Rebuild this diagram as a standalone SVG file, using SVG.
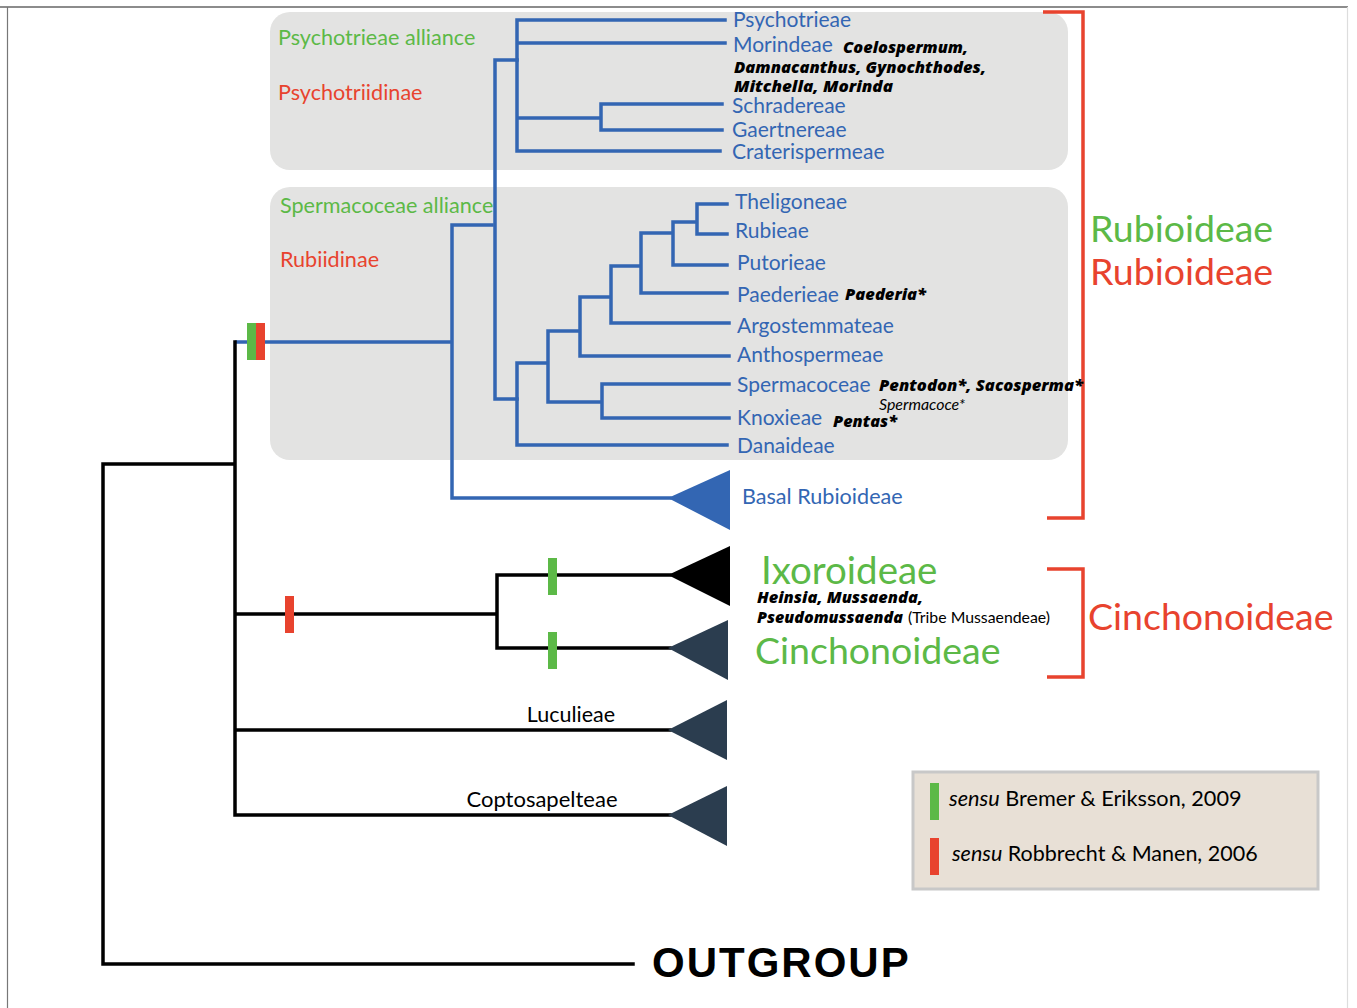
<svg xmlns="http://www.w3.org/2000/svg" width="1357" height="1008" viewBox="0 0 1357 1008">
<defs>
<style>
.box{fill:#e3e3e2}
.bl{stroke:#3366b3;stroke-width:3.5;fill:none;stroke-linecap:square}
.bk{stroke:#000;stroke-width:3.5;fill:none;stroke-linecap:square}
.rb{stroke:#e8432e;stroke-width:3.5;fill:none}
.t{font-family:Lato,"Open Sans",sans-serif}
.blue{fill:#3366b3;font-size:21px}
.green{fill:#5cb947}
.red{fill:#e8432e}
.bi{font-family:"Open Sans",Lato,sans-serif;font-weight:800;font-style:italic;font-size:15px;fill:#000}
.tri{fill:#2b3d4f}
.mg{fill:#5cb947}
.mr{fill:#e8432e}
</style>
</defs>
<rect width="1357" height="1008" fill="#fff"/>
<g id="frame">
<line x1="0" y1="7" x2="1348" y2="7" stroke="#666" stroke-width="1.5"/>
<line x1="7.5" y1="7" x2="7.5" y2="1008" stroke="#777" stroke-width="1.2"/>
<line x1="1347.5" y1="7" x2="1347.5" y2="1008" stroke="#ddd" stroke-width="1.2"/>
</g>
<g id="boxes">
<rect id="box-psychotrieae" class="box" x="270" y="12" width="798" height="158" rx="20"/>
<rect id="box-spermacoceae" class="box" x="270" y="187" width="798" height="273" rx="20"/>
</g>
<g id="connectors">
<path class="bl" d="M517,20 V151 M517,20 H725 M517,43 H725 M517,118 H601 M601,104 V130 M601,104 H722 M601,130 H722 M517,151 H720"/>
<path class="bl" d="M495,60 V399 M495,60 H517 M495,399 H517"/>
<path class="bl" d="M517,363 V445 M517,445 H727 M517,363 H548 M548,331 V402 M548,402 H602 M602,384 V418 M602,384 H729 M602,418 H729 M548,331 H580 M580,297 V356 M580,356 H729 M580,297 H611 M611,266 V323 M611,323 H729 M611,266 H641 M641,233 V293 M641,293 H727 M641,233 H673 M673,222 V265 M673,265 H727 M673,222 H697 M697,204 V234 M697,204 H727 M697,234 H727"/>
<path class="bl" d="M452,225 V498 M452,225 H492 M237,342 H452 M452,498 H670"/>
<path class="bk" d="M103,464 V964 M103,464 H235 M235,342 V815 M103,964 H633 M235,614 H497 M497,575 V648 M497,575 H670 M497,648 H670 M235,730 H670 M235,815 H670"/>
<path class="rb" d="M1043,12 H1083 V518 H1047"/>
<path class="rb" d="M1047,569 H1083 V677 H1047"/>
</g>
<g id="markers">
<rect class="mg" x="247" y="323" width="9" height="37"/>
<rect class="mr" x="256" y="323" width="9" height="37"/>
<rect class="mr" x="285" y="596" width="9" height="37"/>
<rect class="mg" x="548" y="558" width="9" height="37"/>
<rect class="mg" x="548" y="632" width="9" height="37"/>
</g>
<g id="node-basal-rubioideae">
<polygon points="668,498 730,470 730,530" fill="#3366b3"/>
<text class="t" x="742" y="504" font-size="21.6" fill="#3366b3">Basal Rubioideae</text>
</g>
<g id="node-ixoroideae">
<polygon points="668,575 730,546 730,606" fill="#000"/>
<text class="t green" x="761" y="584" font-size="38.5">Ixoroideae</text>
<text class="bi" x="757" y="603" textLength="166" lengthAdjust="spacingAndGlyphs">Heinsia, Mussaenda,</text>
<text class="bi" x="757" y="623" textLength="146" lengthAdjust="spacingAndGlyphs">Pseudomussaenda</text>
<text class="t" x="908" y="623" font-size="15" fill="#000" textLength="142" lengthAdjust="spacingAndGlyphs">(Tribe Mussaendeae)</text>
</g>
<g id="node-cinchonoideae">
<polygon class="tri" points="668,648 728,620 728,680"/>
<text class="t green" x="755" y="664" font-size="37.5">Cinchonoideae</text>
</g>
<g id="node-luculieae">
<polygon class="tri" points="668,730 727,700 727,760"/>
<text class="t" x="571" y="722" font-size="21.5" text-anchor="middle" fill="#000">Luculieae</text>
</g>
<g id="node-coptosapelteae">
<polygon class="tri" points="668,815 727,786 727,846"/>
<text class="t" x="542" y="807" font-size="22" text-anchor="middle" fill="#000">Coptosapelteae</text>
</g>
<g id="node-outgroup">
<text x="652" y="977" font-family="'Liberation Sans',Arial,sans-serif" font-weight="bold" font-size="42" letter-spacing="2" fill="#000">OUTGROUP</text>
</g>
<g id="labels-psychotrieae">
<text class="t green" x="278" y="45" font-size="21.6">Psychotrieae alliance</text>
<text class="t red" x="278" y="100" font-size="21.6">Psychotriidinae</text>
<text class="t blue" x="733" y="27">Psychotrieae</text>
<text class="t blue" x="733" y="52">Morindeae</text>
<text class="bi" x="843" y="53" textLength="125" lengthAdjust="spacingAndGlyphs">Coelospermum,</text>
<text class="bi" x="734" y="73" textLength="252" lengthAdjust="spacingAndGlyphs">Damnacanthus, Gynochthodes,</text>
<text class="bi" x="734" y="92" textLength="159" lengthAdjust="spacingAndGlyphs">Mitchella, Morinda</text>
<text class="t blue" x="732" y="113">Schradereae</text>
<text class="t blue" x="732" y="137">Gaertnereae</text>
<text class="t blue" x="732" y="159">Craterispermeae</text>
</g>
<g id="labels-spermacoceae">
<text class="t green" x="280" y="213" font-size="21.6">Spermacoceae alliance</text>
<text class="t red" x="280" y="267" font-size="21.6">Rubiidinae</text>
<text class="t blue" x="735" y="209">Theligoneae</text>
<text class="t blue" x="735" y="238">Rubieae</text>
<text class="t blue" x="737" y="270">Putorieae</text>
<text class="t blue" x="737" y="302">Paederieae</text>
<text class="bi" x="845" y="300" textLength="81" lengthAdjust="spacingAndGlyphs">Paederia*</text>
<text class="t blue" x="737" y="333">Argostemmateae</text>
<text class="t blue" x="737" y="362">Anthospermeae</text>
<text class="t blue" x="737" y="392">Spermacoceae</text>
<text class="bi" x="879" y="391" textLength="204" lengthAdjust="spacingAndGlyphs">Pentodon*, Sacosperma*</text>
<text class="t" x="879" y="410" font-size="15" font-style="italic" fill="#000" textLength="86" lengthAdjust="spacingAndGlyphs">Spermacoce*</text>
<text class="t blue" x="737" y="425">Knoxieae</text>
<text class="bi" x="833" y="427" textLength="64" lengthAdjust="spacingAndGlyphs">Pentas*</text>
<text class="t blue" x="737" y="453">Danaideae</text>
</g>
<g id="labels-subfamilies">
<text class="t green" x="1090" y="242" font-size="37.5">Rubioideae</text>
<text class="t red" x="1090" y="285" font-size="37.5">Rubioideae</text>
<text class="t red" x="1088" y="630" font-size="37.5">Cinchonoideae</text>
</g>
<g id="legend">
<rect x="913" y="772" width="405" height="117" fill="#e8e0d6" stroke="#c8c8c8" stroke-width="3"/>
<rect class="mg" x="930" y="783" width="9" height="37"/>
<rect class="mr" x="930" y="838" width="9" height="37"/>
<text class="t" x="949" y="806" font-size="21.7" fill="#000"><tspan font-style="italic">sensu</tspan> Bremer &amp; Eriksson, 2009</text>
<text class="t" x="952" y="861" font-size="21.5" fill="#000"><tspan font-style="italic">sensu</tspan> Robbrecht &amp; Manen, 2006</text>
</g>
</svg>
